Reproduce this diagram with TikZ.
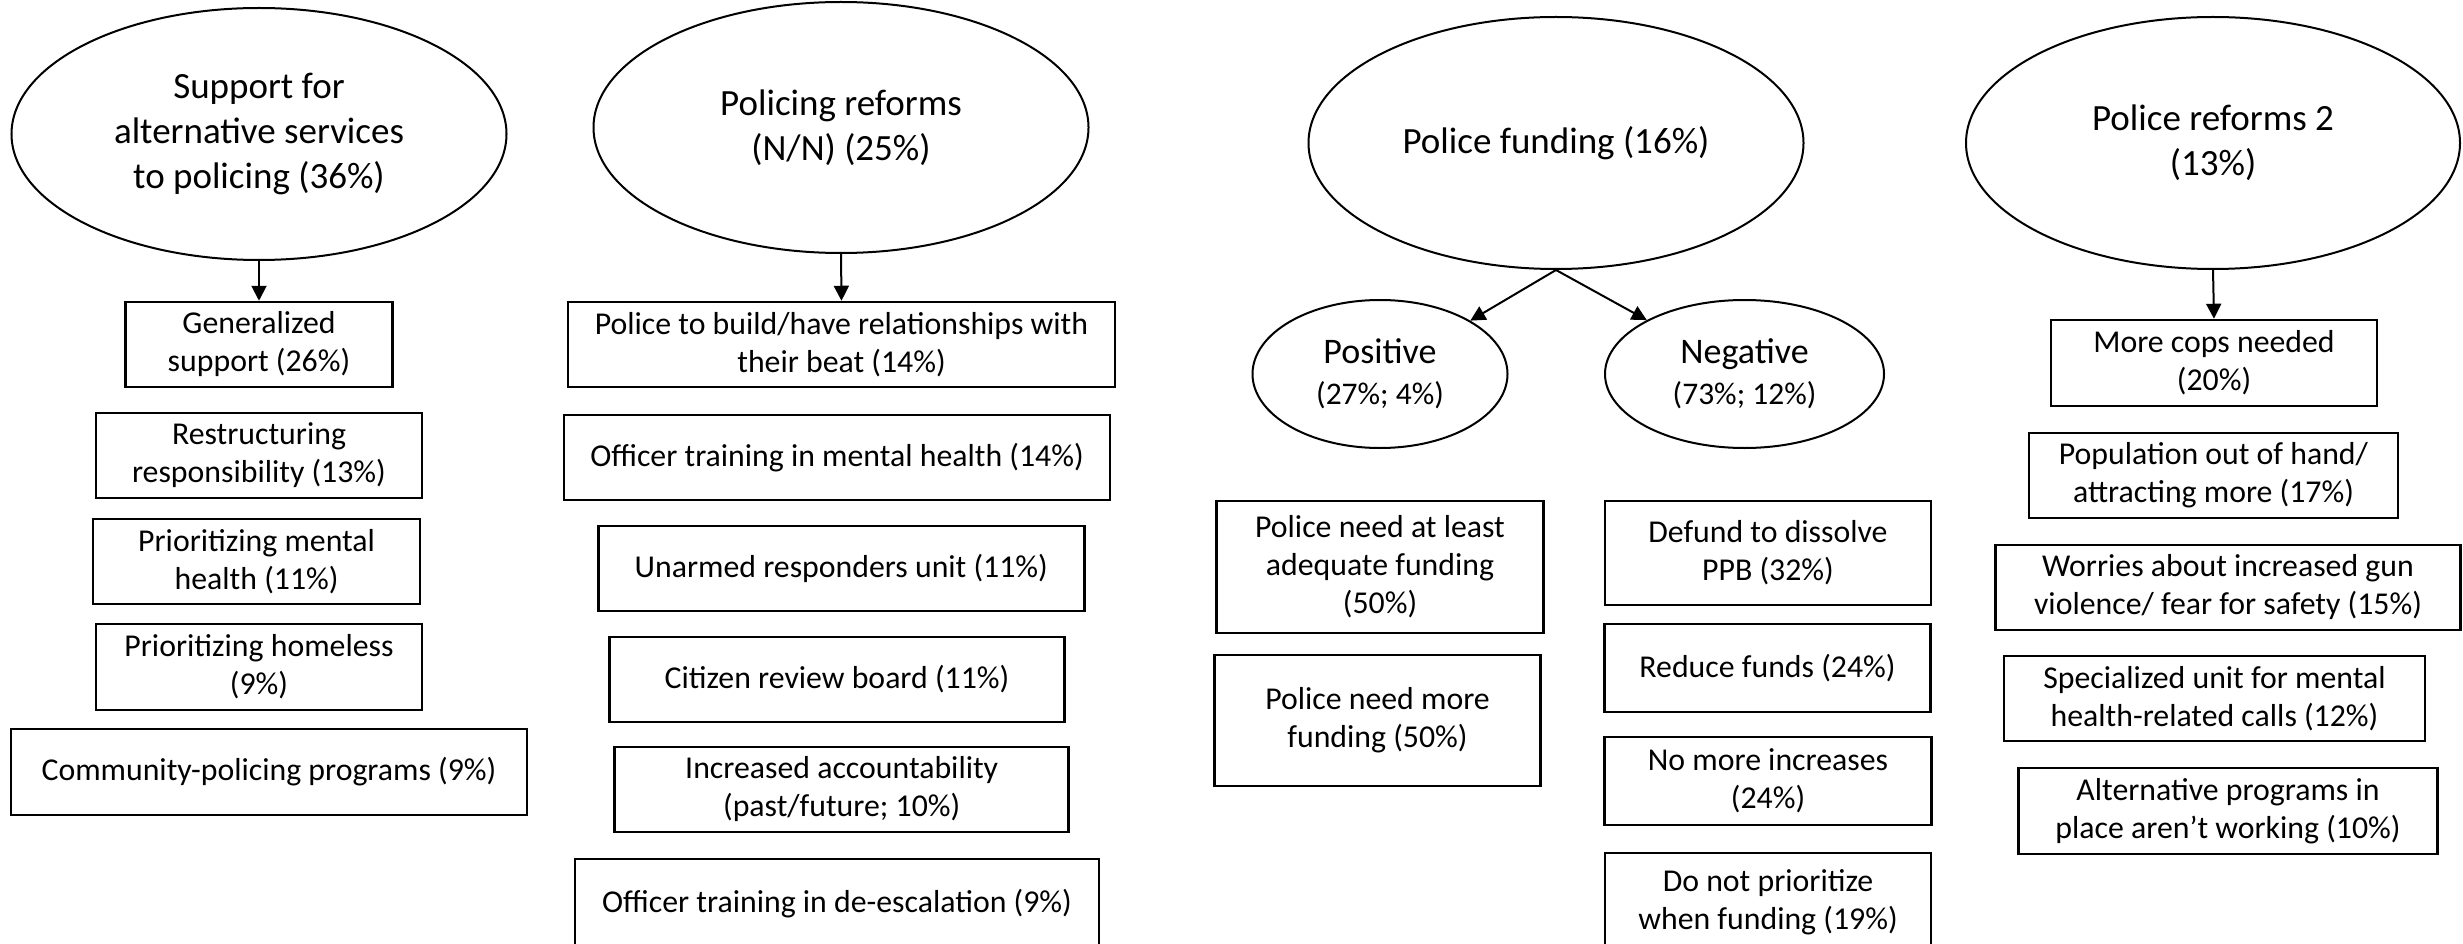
\documentclass[tikz,border=0pt]{standalone}
\usepackage{fontspec}
\setmainfont{Carlito}
\usetikzlibrary{shapes.geometric,arrows.meta}
\tikzset{
  topic/.style={ellipse, draw, line width=2pt, inner sep=0pt, align=center, font=\fontsize{37}{45}\selectfont},
  sub/.style={ellipse, draw, line width=2pt, inner sep=0pt, align=center, font=\fontsize{36}{41}\selectfont},
  item/.style={rectangle, draw, line width=2.5pt, inner sep=0pt, align=center, font=\fontsize{31.8}{38}\selectfont},
  link/.style={line width=2pt, -{Triangle[width=15pt,length=15pt]}},
}
\begin{document}
\begin{tikzpicture}[x=1pt,y=-1pt]
\useasboundingbox (0,0) rectangle (2463,944);
\clip (0,0) rectangle (2463,944);
% column 1
\node[topic, minimum width=495, minimum height=252] (e1) at (259,134) {Support for\\alternative services\\to policing (36\%)};
\node[item, minimum width=267, minimum height=85] (c1b1) at (259,344.5) {Generalized\\support (26\%)};
\node[item, minimum width=326, minimum height=85] (c1b2) at (259,455.5) {Restructuring\\responsibility (13\%)};
\node[item, minimum width=327, minimum height=85] (c1b3) at (256.6,561.5) {Prioritizing mental\\health (11\%)};
\node[item, minimum width=326, minimum height=86] (c1b4) at (259,667) {Prioritizing homeless\\(9\%)};
\node[item, minimum width=516, minimum height=86] (c1b5) at (269,772) {Community-policing programs (9\%)};
% column 2
\node[topic, minimum width=495, minimum height=251] (e2) at (841,127.5) {Policing reforms\\(N/N) (25\%)};
\node[item, minimum width=547, minimum height=85] (c2b1) at (841.5,344.5) {Police to build/have relationships with\\their beat (14\%)};
\node[item, minimum width=546, minimum height=85] (c2b2) at (837,457.5) {Officer training in mental health (14\%)};
\node[item, minimum width=486, minimum height=85] (c2b3) at (841.3,568.5) {Unarmed responders unit (11\%)};
\node[item, minimum width=455, minimum height=85] (c2b4) at (837,679.5) {Citizen review board (11\%)};
\node[item, minimum width=454, minimum height=85] (c2b5) at (841.7,789.5) {Increased accountability\\(past/future; 10\%)};
\node[item, minimum width=524, minimum height=90] (c2b6) at (837,904) {Officer training in de-escalation (9\%)};
% column 3
\node[topic, minimum width=495, minimum height=252] (e3) at (1556,143) {Police funding (16\%)};
\node[sub, minimum width=255, minimum height=148] (pos) at (1380,374) {Positive\\\fontsize{31.5}{41}\selectfont(27\%; 4\%)};
\node[sub, minimum width=279, minimum height=148] (neg) at (1744.5,374) {Negative\\\fontsize{31.5}{41}\selectfont(73\%; 12\%)};
\node[item, minimum width=327, minimum height=132] (c3p1) at (1380,567) {Police need at least\\adequate funding\\(50\%)};
\node[item, minimum width=326, minimum height=131] (c3p2) at (1377.5,720.5) {Police need more\\funding (50\%)};
\node[item, minimum width=326, minimum height=104] (c3n1) at (1768,553) {Defund to dissolve\\PPB (32\%)};
\node[item, minimum width=326, minimum height=88] (c3n2) at (1767.5,668) {Reduce funds (24\%)};
\node[item, minimum width=327, minimum height=88] (c3n3) at (1768,781) {No more increases\\(24\%)};
\node[item, minimum width=326, minimum height=98] (c3n4) at (1768,902) {Do not prioritize\\when funding (19\%)};
% column 4
\node[topic, minimum width=494, minimum height=252] (e4) at (2213,143) {Police reforms 2\\(13\%)};
\node[item, minimum width=326, minimum height=86] (c4b1) at (2214,363) {More cops needed\\(20\%)};
\node[item, minimum width=369, minimum height=85] (c4b2) at (2213.5,475.5) {Population out of hand/\\attracting more (17\%)};
\node[item, minimum width=465, minimum height=85] (c4b3) at (2228,587.5) {Worries about increased gun\\violence/ fear for safety (15\%)};
\node[item, minimum width=421, minimum height=85] (c4b4) at (2214.5,698.5) {Specialized unit for mental\\health-related calls (12\%)};
\node[item, minimum width=419, minimum height=86] (c4b5) at (2228,811) {Alternative programs in\\place aren’t working (10\%)};
% connectors
\draw[link] (e1.south) -- (c1b1.north);
\draw[link] (e2.south) -- (c2b1.north);
\draw[link] (e3.south) -- (pos);
\draw[link] (e3.south) -- (neg);
\draw[link] (e4.south) -- (c4b1.north);
\end{tikzpicture}
\end{document}
